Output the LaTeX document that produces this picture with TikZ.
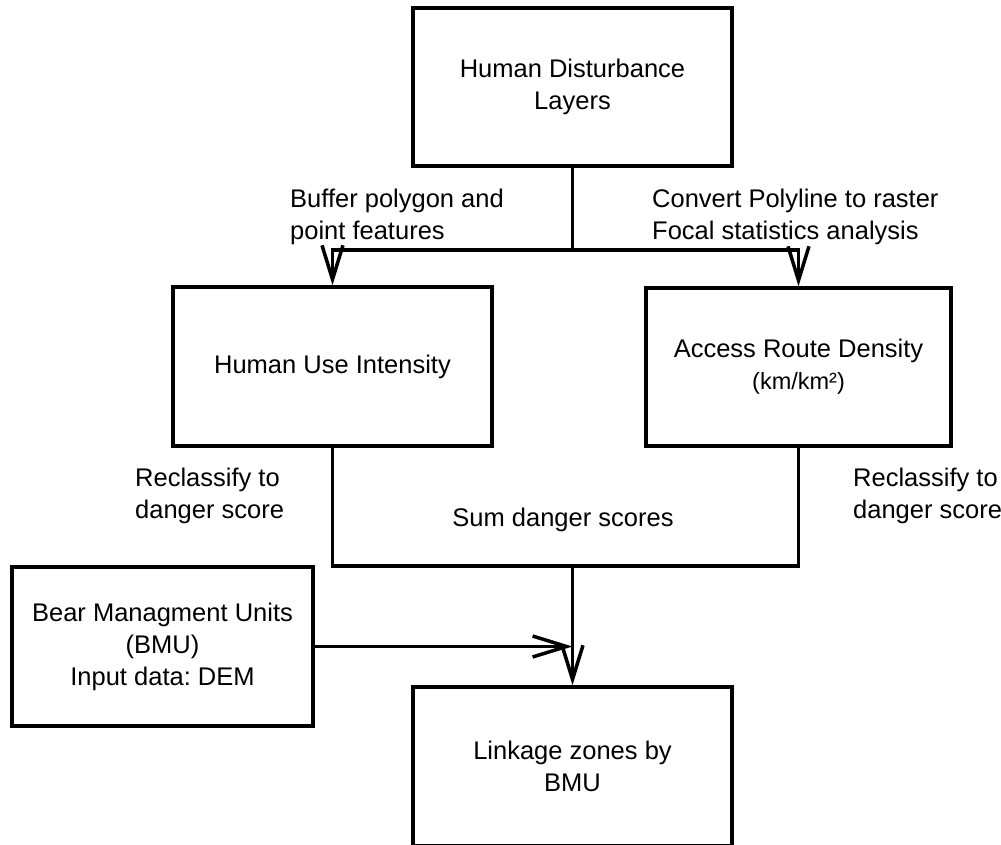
\documentclass[tikz,border=0pt]{standalone}
\usepackage{fontspec}
\setmainfont{Liberation Sans}
\usetikzlibrary{arrows.meta}
\frenchspacing
\begin{document}
\begin{tikzpicture}[x=1pt,y=-1pt,
  every node/.style={font=\fontsize{25.5}{32}\selectfont},
  box/.style={draw, line width=3.5pt, align=center, inner sep=0pt},
  lbl/.style={align=left, inner sep=0pt, anchor=west},
  wire/.style={line width=3.5pt},
  arr/.style={wire, -{Straight Barb[length=34pt,width=21pt,line width=3.5pt]}}]
\useasboundingbox (0,0) rectangle (1001,845);
\clip (0,0) rectangle (1001,845);

% boxes
\node[box, minimum width=319pt, minimum height=158pt] (hdl) at (572.5,87) {Human Disturbance\\Layers};
\node[box, minimum width=319pt, minimum height=159pt] (hui) at (332.5,366.5) {Human Use Intensity};
\node[box, minimum width=305pt, minimum height=158pt] (ard) at (798.5,367) {Access Route Density\\{\fontsize{23.5}{28}\selectfont (km/km²)}};
\node[box, minimum width=301pt, minimum height=159pt] (bmu) at (162.5,646.5) {Bear Managment Units\\(BMU)\\Input data: DEM};
\node[box, minimum width=319pt, minimum height=159pt] (lzb) at (572.5,766.5) {Linkage zones by\\BMU};

% labels
\node[lbl] (buf) at (290,217) {Buffer polygon and\\point features};
\node[lbl] (cvt) at (652,217) {Convert Polyline to raster\\Focal statistics analysis};
\node[lbl] (rcl) at (135,496) {Reclassify to\\danger score};
\node[lbl] (rcr) at (853,496) {Reclassify to\\danger score};
\node[inner sep=0pt] (sds) at (563,520) {Sum danger scores};

% connectors
\coordinate (split) at (572.5,250);
\coordinate (sum) at (572.5,566);
\draw[wire] (hdl.south) -- (split);
\draw[arr] (split) -| (hui.north);
\draw[arr] (split) -| (ard.north);
\draw[wire] (hui.south) -- (hui.south |- sum) -- (ard.south |- sum) -- (ard.south);
\draw[arr] (sum) -- (lzb.north);
\draw[arr] (bmu.east) -- (lzb.north |- bmu.east);
\end{tikzpicture}
\end{document}
